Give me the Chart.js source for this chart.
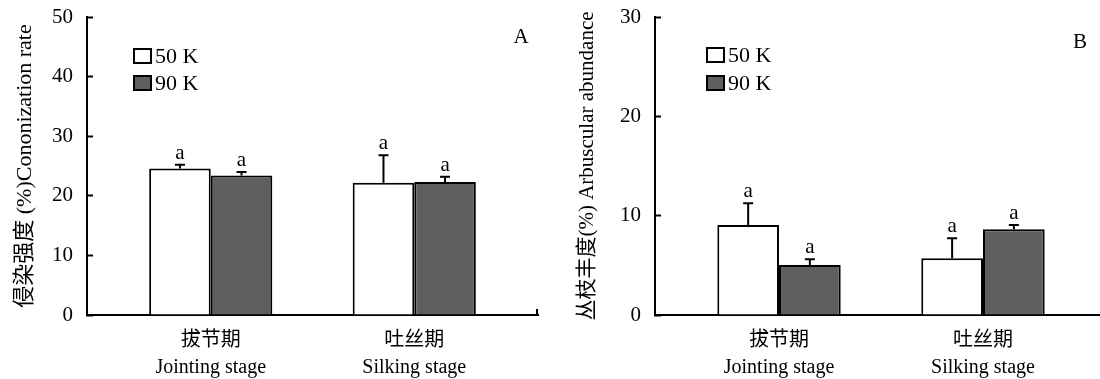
<!DOCTYPE html>
<html><head><meta charset="utf-8">
<script src="https://cdn.jsdelivr.net/npm/chart.js@4.4.0/dist/chart.umd.min.js"></script>
<style>
html,body{margin:0;padding:0;background:#fff;overflow:hidden;width:1100px;height:379px;position:relative;}
canvas{position:absolute;top:0;}
#cA{left:0}
#cB{left:550px}
</style></head><body>
<canvas id="cA" width="550" height="379"></canvas>
<canvas id="cB" width="560" height="379"></canvas>
<script>
// ---- data ----
const categoriesCN = ['拔节期', '吐丝期'];
const categoriesEN = ['Jointing stage', 'Silking stage'];
const seriesLabels = ['50 K', '90 K'];

const colonA_50K = [24.6, 22.2];
const colonA_90K = [23.4, 22.3];
const colonA_err50K = [0.6, 4.6];
const colonA_err90K = [0.6, 0.9];
const sigA_50K = ['a', 'a'];
const sigA_90K = ['a', 'a'];
const yTitleA = '侵染强度 (%)Cononization rate';
const yMaxA = 50;

const arbB_50K = [9.06, 5.71];
const arbB_90K = [5.04, 8.63];
const arbB_err50K = [2.19, 2.01];
const arbB_err90K = [0.57, 0.43];
const sigB_50K = ['a', 'a'];
const sigB_90K = ['a', 'a'];
const yTitleB = '丛枝丰度(%) Arbuscular abundance';
const yMaxB = 30;

const yStep = 10;
const panelLetters = ['A', 'B'];

// ---- style ----
const SERIF = '"Liberation Serif", "Noto Sans CJK SC", serif';
const COLORS = ['#ffffff', '#5f5f5f'];

const errPlugin = {
  id: 'errbars',
  afterDatasetsDraw(chart) {
    const ctx = chart.ctx, ys = chart.scales.y;
    ctx.save();
    chart.data.datasets.forEach((ds, di) => {
      const meta = chart.getDatasetMeta(di);
      meta.data.forEach((bar, i) => {
        const v = ds.data[i].y, e = ds.errors[i];
        const yTop = ys.getPixelForValue(v), yErr = ys.getPixelForValue(v + e);
        ctx.strokeStyle = '#000'; ctx.lineWidth = 2;
        ctx.beginPath();
        ctx.moveTo(bar.x, yTop); ctx.lineTo(bar.x, yErr);
        ctx.moveTo(bar.x - 5, yErr); ctx.lineTo(bar.x + 5, yErr);
        ctx.stroke();
        ctx.fillStyle = '#000';
        ctx.font = '21px ' + SERIF;
        ctx.textAlign = 'center'; ctx.textBaseline = 'alphabetic';
        ctx.fillText(ds.sig[i], bar.x, yErr - 6);
      });
    });
    ctx.restore();
  }
};

const decoPlugin = {
  id: 'deco',
  afterDraw(chart, args, opts) {
    const ctx = chart.ctx, ca = chart.chartArea;
    ctx.save();
    chart.data.datasets.forEach((ds, i) => {
      const x = ca.left + opts.dx, y = opts.top + i * opts.row;
      ctx.fillStyle = ds.backgroundColor;
      ctx.fillRect(x, y, opts.w, opts.h);
      ctx.strokeStyle = '#000'; ctx.lineWidth = 2;
      ctx.strokeRect(x, y, opts.w, opts.h);
      ctx.fillStyle = '#000';
      ctx.font = '22px ' + SERIF;
      ctx.textAlign = 'left'; ctx.textBaseline = 'middle';
      ctx.fillText(ds.label, x + opts.w + 4, y + opts.h / 2 + 1);
    });
    // panel letter
    ctx.font = '21px ' + SERIF;
    ctx.textAlign = 'center'; ctx.textBaseline = 'middle';
    ctx.fillStyle = '#000';
    ctx.fillText(opts.letter, opts.lx, opts.ly);
    // end tick of x axis
    const xs = chart.scales.x;
    ctx.strokeStyle = '#000'; ctx.lineWidth = 2;
    ctx.beginPath();
    ctx.moveTo(xs.right - 1, ca.bottom); ctx.lineTo(xs.right - 1, ca.bottom - 6);
    ctx.stroke();
    ctx.restore();
  }
};

function makeChart(id, v50, v90, e50, e90, s50, s90, yMax, yTitle, titleSize, yWidth, titlePad, padRight, deco) {
  const mk = (vals) => vals.map((v, i) => ({ x: i + 1, y: v }));
  return new Chart(document.getElementById(id), {
    type: 'bar',
    data: {
      datasets: [
        { label: seriesLabels[0], data: mk(v50), errors: e50, sig: s50,
          backgroundColor: COLORS[0], borderColor: '#000', borderWidth: 2,
          barPercentage: 1.0, categoryPercentage: 0.605 },
        { label: seriesLabels[1], data: mk(v90), errors: e90, sig: s90,
          backgroundColor: COLORS[1], borderColor: '#000', borderWidth: 2,
          barPercentage: 1.0, categoryPercentage: 0.605 }
      ]
    },
    options: {
      responsive: false,
      animation: false,
      devicePixelRatio: 1,
      layout: { padding: { top: 17, right: padRight, left: 0, bottom: 0 } },
      plugins: {
        legend: { display: false },
        tooltip: { enabled: false },
        deco: deco
      },
      scales: {
        x: {
          type: 'linear',
          offset: false,
          min: 0.392, max: 2.608,
          afterBuildTicks: (s) => { s.ticks = categoriesCN.map((c, i) => ({ value: i + 1 })); },
          afterFit: (s) => { s.height = 64; s.paddingLeft = 0; s.paddingRight = 0; },
          grid: { display: false, drawTicks: false },
          border: { display: true, color: '#000', width: 2 },
          ticks: {
            autoSkip: false, maxRotation: 0, padding: 12, color: '#000',
            font: { family: SERIF, size: 20, lineHeight: 1.35 },
            callback: (v, i) => [categoriesCN[i], categoriesEN[i]]
          }
        },
        y: {
          min: 0, max: yMax,
          afterFit: (s) => { s.width = yWidth; s.paddingTop = 0; s.paddingBottom = 0; },
          grid: { display: true, drawOnChartArea: false, drawTicks: true, tickLength: -6, tickWidth: 2, tickColor: '#000' },
          border: { display: true, color: '#000', width: 2 },
          ticks: { stepSize: yStep, padding: 20, color: '#000', font: { family: SERIF, size: 21 } },
          title: { display: true, text: yTitle, color: '#000',
                   font: { family: SERIF, size: titleSize, lineHeight: 1.2 }, padding: { top: titlePad, bottom: 0 } }
        }
      }
    },
    plugins: [errPlugin, decoPlugin]
  });
}

makeChart('cA', colonA_50K, colonA_90K, colonA_err50K, colonA_err90K, sigA_50K, sigA_90K,
  yMaxA, yTitleA, 22, 87, 12, 12,
  { dx: 47, top: 49, row: 27, w: 17, h: 14, letter: panelLetters[0], lx: 521, ly: 37 });
makeChart('cB', arbB_50K, arbB_90K, arbB_err50K, arbB_err90K, sigB_50K, sigB_90K,
  yMaxB, yTitleB, 21, 105, 25, 3,
  { dx: 52, top: 48, row: 28, w: 17, h: 14, letter: panelLetters[1], lx: 530, ly: 42 });
</script>
</body></html>
